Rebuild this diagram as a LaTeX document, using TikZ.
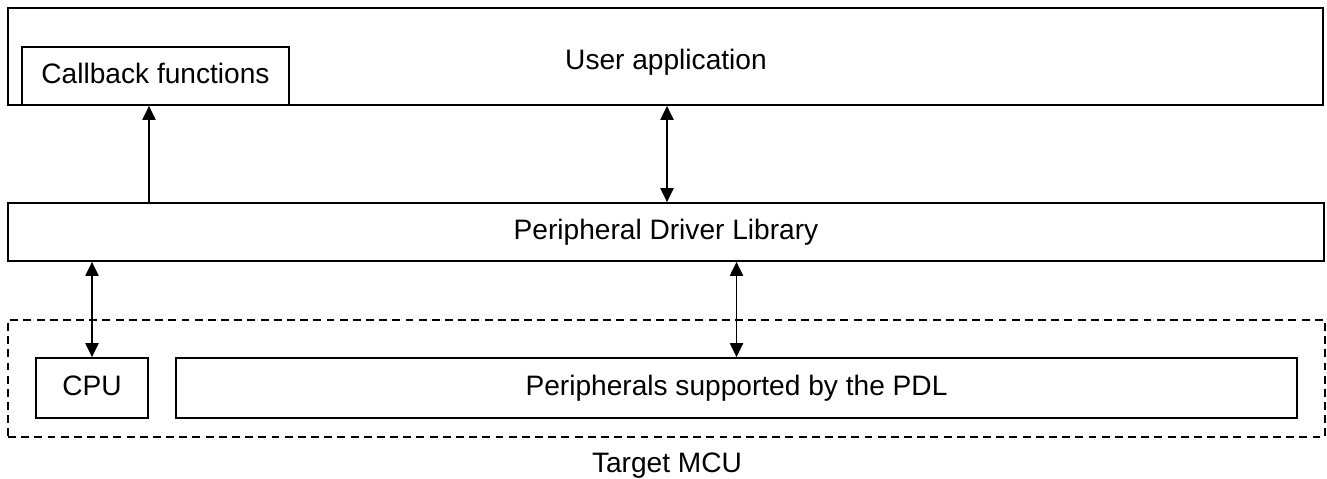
\documentclass[tikz,border=0pt]{standalone}
\usepackage{fontspec}
\setmainfont{Liberation Sans}
\usetikzlibrary{arrows.meta}
\begin{document}
\begin{tikzpicture}[x=0.02cm,y=-0.02cm,line width=1pt,
    font=\fontsize{16}{19}\selectfont,
    >={Triangle[length=8pt,width=7.5pt]},
    txt/.style={inner sep=0pt,text height=11.5pt,text depth=3.4pt},
    blk/.style={txt,draw,fill=white}]
    \def\u{0.02cm}% 1 px
    \useasboundingbox (0,0) rectangle (1327,478);
    % target MCU frame
    \node[draw,dash pattern=on 4.5pt off 3pt,minimum width=1317*\u,minimum height=117*\u] (mcu) at (666.5,378.5) {};
    \node[txt] (mcutxt) at (667,465) {Target MCU};
    % layers
    \path[every node/.style={blk}]
    foreach \n/\x/\y/\w/\h/\t in {app/665.5/56.5/1315/97/,cb/155.5/76/267/58/Callback functions,
        pdl/666/232/1316/58/Peripheral Driver Library,cpu/92/388/112/60/CPU,
        per/736.5/388/1121/60/Peripherals supported by the PDL}
    {(\x,\y) node[minimum width=\w*\u,minimum height=\h*\u] (\n) {\t}};
    \node[txt] (apptxt) at (666,62) {User application};
    % arrows
    \coordinate (cbx) at (149,0);
    \coordinate (ax) at (667,0);
    \draw[->] (cbx |- pdl.north) -- (cbx |- cb.south);
    \draw[<->] (ax |- pdl.north) -- (ax |- app.south);
    \foreach \n in {cpu,per} \draw[<->] (\n.north) -- (\n.north |- pdl.south);
\end{tikzpicture}
\end{document}
